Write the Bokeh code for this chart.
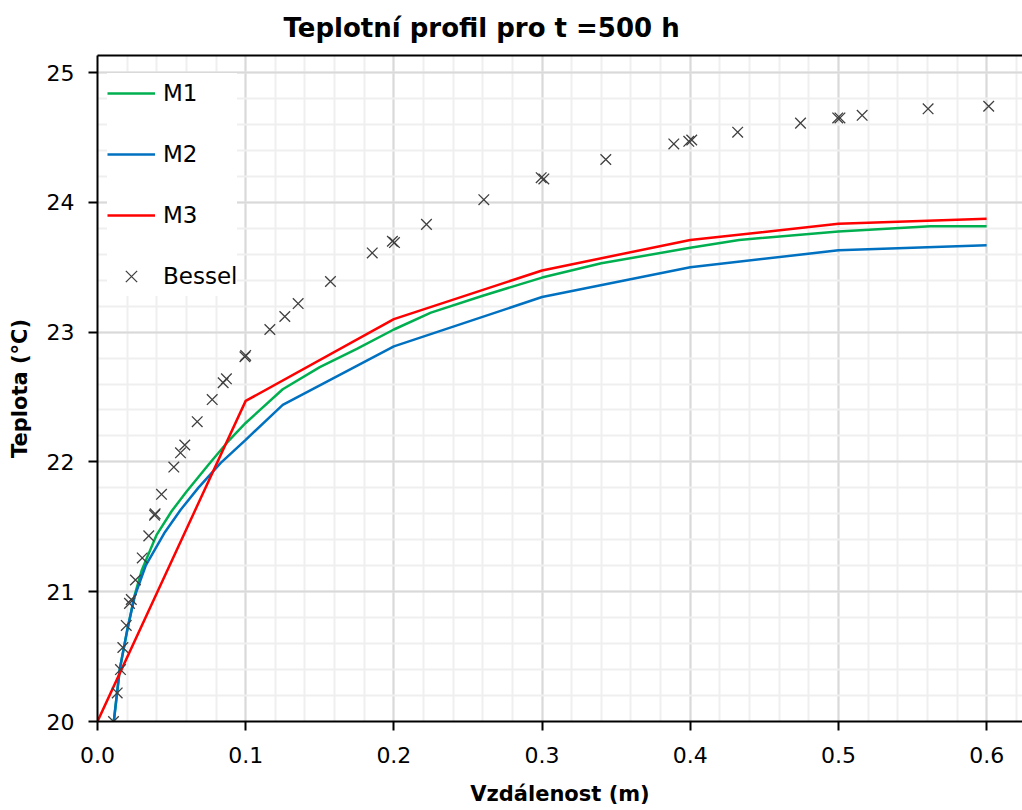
from bokeh.plotting import figure
from bokeh.models import (Range1d, SingleIntervalTicker, NumeralTickFormatter,
                          LinearAxis, FixedTicker, Legend, LegendItem)
from bokeh.embed import file_html
from bokeh.resources import INLINE

# Model M1 (fine mesh)
m1_x = [0.011, 0.015, 0.020, 0.025, 0.030, 0.040, 0.050, 0.060, 0.075, 0.0875,
        0.100, 0.125, 0.150, 0.175, 0.200, 0.225, 0.260, 0.300, 0.340, 0.400,
        0.433, 0.500, 0.562, 0.600]
m1_y = [20.00, 20.40, 20.70, 20.97, 21.17, 21.44, 21.62, 21.77, 21.98, 22.15,
        22.30, 22.56, 22.73, 22.87, 23.02, 23.15, 23.28, 23.42, 23.53, 23.65,
        23.71, 23.775, 23.816, 23.816]

# Model M2
m2_x = [0.011, 0.015, 0.020, 0.025, 0.0325, 0.045, 0.056, 0.068, 0.083, 0.100,
        0.125, 0.200, 0.300, 0.400, 0.500, 0.600]
m2_y = [20.00, 20.40, 20.70, 20.96, 21.20, 21.45, 21.63, 21.80, 21.99, 22.17,
        22.44, 22.89, 23.27, 23.50, 23.63, 23.67]

# Model M3 (coarse mesh)
m3_x = [0.0, 0.1, 0.2, 0.3, 0.4, 0.5, 0.6]
m3_y = [20.00, 22.47, 23.10, 23.475, 23.71, 23.834, 23.873]

# Analytical (Bessel) solution
bessel_x = [0.0108, 0.0133, 0.0155, 0.0171, 0.0194, 0.0216, 0.0228, 0.0256,
            0.0302, 0.0346, 0.0385, 0.0389, 0.0432, 0.0515, 0.0560, 0.0589,
            0.0673, 0.0774, 0.0848, 0.0870, 0.0995, 0.1000, 0.1163, 0.1264,
            0.1354, 0.1572, 0.1854, 0.1990, 0.2004, 0.2220, 0.2607, 0.2994,
            0.3012, 0.3430, 0.3889, 0.3990, 0.4010, 0.4320, 0.4744, 0.4995,
            0.5010, 0.5160, 0.5605, 0.6014]
bessel_y = [20.00, 20.22, 20.40, 20.57, 20.74, 20.91, 20.94, 21.09,
            21.26, 21.43, 21.59, 21.60, 21.75, 21.96, 22.07, 22.13,
            22.31, 22.48, 22.61, 22.64, 22.81, 22.82, 23.02, 23.12,
            23.22, 23.39, 23.61, 23.70, 23.69, 23.83, 24.02, 24.19,
            24.18, 24.33, 24.45, 24.47, 24.48, 24.54, 24.61, 24.65,
            24.65, 24.67, 24.72, 24.74]

x_ticks = [0.0, 0.1, 0.2, 0.3, 0.4, 0.5, 0.6]
y_ticks = [20, 21, 22, 23, 24, 25]

FONT = "DejaVu Sans"

p = figure(width=1022, height=810, output_backend="svg", toolbar_location=None,
           x_range=Range1d(0, 0.6242), y_range=Range1d(20, 25.131),
           min_border_left=97, min_border_right=0, min_border_top=55,
           min_border_bottom=89, outline_line_color=None,
           background_fill_color="white", border_fill_color="white")

p.title.text = "Teplotní profil pro t =500 h"
p.title.align = "left"
p.title.vertical_align = "top"
p.title.offset = 186
p.title.standoff = 22
p.title.text_font = FONT
p.title.text_font_size = "26px"
p.title.text_font_style = "bold"
p.title.text_color = "black"

xa = p.xaxis[0]
ya = p.yaxis[0]
xa.ticker = SingleIntervalTicker(interval=0.1, num_minor_ticks=5)
ya.ticker = SingleIntervalTicker(interval=1, num_minor_ticks=5)
xa.formatter = NumeralTickFormatter(format="0.0")
ya.formatter = NumeralTickFormatter(format="0")
xa.axis_label = "Vzdálenost (m)"
ya.axis_label = "Teplota (°C)"
for ax in (xa, ya):
    ax.axis_line_width = 2
    ax.axis_line_color = "black"
    ax.major_tick_out = 9
    ax.major_tick_in = 0
    ax.major_tick_line_width = 2
    ax.major_tick_line_color = "black"
    ax.minor_tick_line_color = None
    ax.major_label_text_font = FONT
    ax.major_label_text_font_size = "22px"
    ax.major_label_text_color = "black"
    ax.axis_label_text_font = FONT
    ax.axis_label_text_font_size = "21px"
    ax.axis_label_text_font_style = "bold"
    ax.axis_label_text_color = "black"
xa.major_label_standoff = 16
xa.axis_label_standoff = 16
ya.major_label_standoff = 14
ya.axis_label_standoff = 12

# plain frame line along the top edge
top = LinearAxis(ticker=FixedTicker(ticks=[]), major_label_text_font_size="0px",
                 axis_line_width=2, axis_line_color="black",
                 major_tick_line_color=None, minor_tick_line_color=None,
                 major_tick_out=0, major_tick_in=0, major_label_standoff=0,
                 axis_label_standoff=0)
p.add_layout(top, "above")

for g in (p.xgrid[0], p.ygrid[0]):
    g.grid_line_color = "#d9d9d9"
    g.grid_line_width = 2
    g.minor_grid_line_color = "#efefef"
    g.minor_grid_line_width = 2

r1 = p.line(m1_x, m1_y, line_color="#00b050", line_width=2.5)
r2 = p.line(m2_x, m2_y, line_color="#0070c0", line_width=2.5)
r3 = p.line(m3_x, m3_y, line_color="#ff0000", line_width=2.5)
rb = p.scatter(bessel_x, bessel_y, marker="x", size=15,
               line_color="#404040", line_width=1.3)

legend = Legend(items=[LegendItem(label="M1", renderers=[r1]),
                       LegendItem(label="M2", renderers=[r2]),
                       LegendItem(label="M3", renderers=[r3]),
                       LegendItem(label="Bessel", renderers=[rb])],
                location=(10, 425), margin=0, padding=10, spacing=21,
                glyph_width=48, glyph_height=40, label_height=40,
                label_standoff=8, label_text_font=FONT,
                label_text_font_size="23px",
                label_text_color="black", border_line_color=None,
                background_fill_color="white", background_fill_alpha=1.0)
p.add_layout(legend)

open("out.html", "w").write(file_html(p, INLINE))
